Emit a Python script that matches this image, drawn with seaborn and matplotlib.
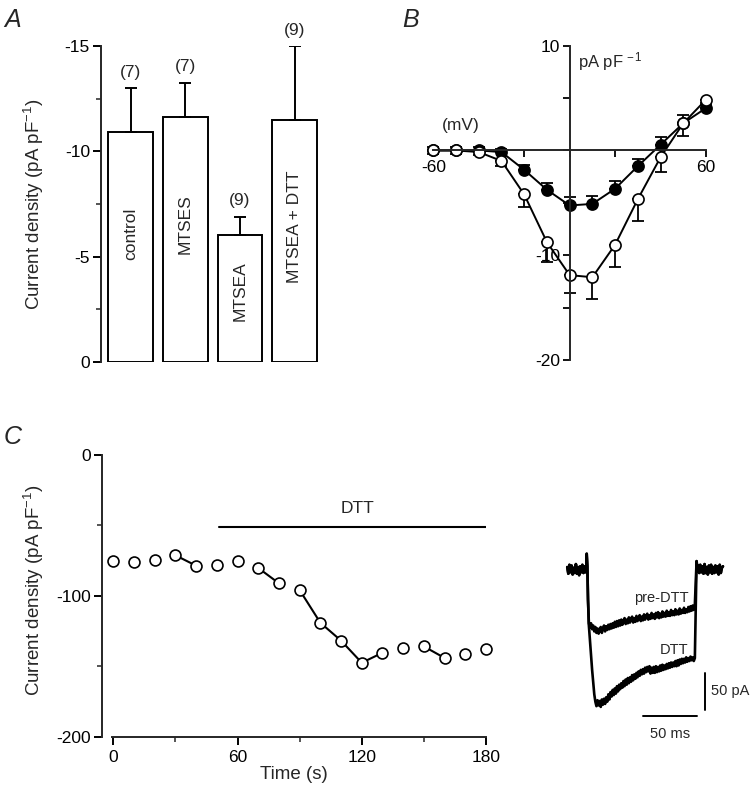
import numpy as np
import pandas as pd
import matplotlib
matplotlib.use('Agg')
import matplotlib.pyplot as plt
from matplotlib.ticker import FixedLocator
import seaborn as sns

# ---------------- data ----------------
# Panel A
conditions = ['control', 'MTSES', 'MTSEA', 'MTSEA + DTT']
density_mean = [-10.9, -11.65, -6.05, -11.5]
density_sem = [2.1, 1.6, 0.85, 3.5]
n_cells = [7, 7, 9, 9]

# Panel B (I-V)
voltage = [-60, -50, -40, -30, -20, -10, 0, 10, 20, 30, 40, 50, 60]
iv_filled = [0.0, 0.0, 0.0, -0.15, -1.85, -3.75, -5.25, -5.1, -3.65, -1.5, 0.55, 2.6, 4.05]
iv_filled_err = [0.3, 0.3, 0.3, 0.3, 0.5, 0.65, 0.85, 0.8, 0.75, 0.65, 0.7, 0.8, 0.5]
iv_open = [0.0, 0.0, -0.15, -1.0, -4.2, -8.75, -11.9, -12.1, -9.0, -4.65, -0.65, 2.6, 4.85]
iv_open_err = [0.3, 0.3, 0.3, 0.5, 1.2, 1.85, 1.75, 2.05, 2.1, 2.05, 1.45, 1.2, 0.5]

# Panel C (time course)
time_s = [0, 10, 20, 30, 40, 50, 60, 70, 80, 90, 100, 110, 120, 130, 140, 150, 160, 170, 180]
density_time = [-75.0, -76.2, -74.8, -71.2, -78.6, -78.3, -75.0, -80.2, -91.1, -95.9,
                -119.1, -131.8, -147.5, -140.4, -136.8, -135.9, -144.1, -141.5, -137.5]
joined = [False, False, False, True, False, False, False, True, False, True,
          True, True, True, False, False, True, False, False]
dtt_period = [51, 180]
dtt_level = -51
dtt_label_x = 118

# Inset current traces (ms, pA)
base_pre_t = [-18, -17, -16, -15, -14, -13, -12, -11, -10, -9, -8, -7, -6, -5, -4, -3, -2, -1, -0.3]
base_pre_v = [4, -5, 7, -3, 6, -6, 3, -4, 8, -5, 4, -7, 5, -3, 7, -4, 5, -3, 0]
onset_t = [0.0, 0.6, 1.2]
onset_v = [22, 5, -40]
pre_v = [-72, -78, -72, -80, -75, -83, -77, -85, -79, -86,
         -80, -77, -85, -79, -75, -83, -76, -81, -74, -80,
         -73, -79, -72, -78, -70, -77, -69, -76, -68, -75,
         -67, -74, -69, -65, -73, -67, -72, -64, -71, -66,
         -63, -71, -65, -70, -62, -69, -64, -61, -69, -63,
         -68, -60, -67, -62, -59, -67, -61, -66, -58, -65,
         -60, -66, -58, -64, -57, -65, -59, -64, -56, -63,
         -58, -63, -55, -62, -57, -62, -54, -61, -56, -61,
         -53, -60, -55, -60, -52, -59, -54, -58, -51, -58,
         -53, -57, -50, -56, -49, -55, -48, -54, -47]
pre_t = list(range(2, 2 + len(pre_v)))
dtt_v = [-75, -95, -115, -135, -152, -168, -178,
         -184, -176, -183, -177, -185, -175, -182, -174, -181, -172,
         -178, -168, -175, -165, -171, -162, -169, -160, -167, -157,
         -164, -155, -161, -153, -159, -150, -157, -148, -155, -146,
         -153, -145, -151, -142, -149, -141, -147, -139, -145, -137,
         -143, -135, -141, -134, -140, -132, -138, -131, -137, -130,
         -140, -132, -139, -131, -139, -130, -138, -131, -137, -129,
         -136, -128, -135, -129, -134, -127, -133, -126, -132, -125,
         -131, -125, -130, -123, -130, -122, -129, -121, -127, -120,
         -126, -120, -125, -118, -124, -119, -123, -117, -122, -118,
         -123, -119]
dtt_t = list(range(2, 2 + len(dtt_v)))
base_post_t = [101.6, 102.2, 103, 104, 105, 106, 107, 108, 109, 110, 111, 112, 113, 114, 115, 116,
               117, 118, 119, 120, 121, 122, 123, 124, 125, 126]
base_post_v = [12, 4, 6, -4, 7, -3, 5, -5, 8, -4, 4, -6, 6, -3, 7, -5, 4, -4, 6, -3, 5, -6, 7, -4, 3, 5]
scale_pA = 50
scale_ms = 50

# ---------------- style ----------------
sns.set_theme(style='ticks')
plt.rcParams['font.family'] = ['Liberation Sans', 'DejaVu Sans']
plt.rcParams['mathtext.fontset'] = 'custom'
plt.rcParams['mathtext.rm'] = 'Liberation Sans'
plt.rcParams['mathtext.it'] = 'Liberation Sans:italic'
plt.rcParams['mathtext.default'] = 'regular'
plt.rcParams['axes.unicode_minus'] = False

W, H = 756, 790
fig = plt.figure(figsize=(W / 100, H / 100), dpi=100)
fig.patch.set_facecolor('white')


def px_axes(x0, y0, x1, y1):
    return fig.add_axes([x0 / W, 1 - y1 / H, (x1 - x0) / W, (y1 - y0) / H])


TICK_FS = 12.5
LAB_FS = 13.5
ylab = 'Current density (pA pF$^{-1}$)'

# ---------------- Panel A ----------------
axA = px_axes(101, 46, 322, 362)
dfA = pd.DataFrame({'condition': conditions, 'density': density_mean})
sns.barplot(data=dfA, x='condition', y='density', ax=axA, color='white', saturation=1,
            edgecolor='black', linewidth=1.4, width=0.82, errorbar=None)
axA.errorbar(range(len(conditions)), density_mean, yerr=[density_sem, [0] * len(conditions)],
             fmt='none', ecolor='black', elinewidth=1.4, capsize=4, capthick=1.4)
axA.set_ylim(0, -15)
axA.set_xlim(-0.54, 3.5)
for s in ['top', 'right', 'bottom']:
    axA.spines[s].set_visible(False)
axA.spines['left'].set_linewidth(1.4)
axA.set_xticks([])
axA.set_xlabel('')
axA.set_yticks([0, -5, -10, -15])
axA.set_yticklabels(['0', '-5', '-10', '-15'], fontsize=TICK_FS)
axA.yaxis.set_minor_locator(FixedLocator([-2.5, -7.5, -12.5]))
axA.tick_params(axis='y', which='major', length=6, width=1.4, pad=2, colors='black')
axA.tick_params(axis='y', which='minor', length=3.5, width=1.1)
axA.set_ylabel(ylab, fontsize=LAB_FS)
axA.yaxis.set_label_coords(-0.25, 0.5)
for i, (m, e, n, c) in enumerate(zip(density_mean, density_sem, n_cells, conditions)):
    axA.text(i, m * 0.56, c, rotation=90, ha='center', va='center', fontsize=12.5)
    axA.annotate(f'({n})', (i, m - e), xytext=(0, 11.5), textcoords='offset points',
                 ha='center', va='center', fontsize=12.5, annotation_clip=False)

# ---------------- Panel B ----------------
axB = px_axes(433.3, 45.7, 706, 360)
sns.lineplot(x=voltage, y=iv_filled, ax=axB, color='black', lw=1.4, marker='o', markersize=8,
             markerfacecolor='black', markeredgecolor='black', markeredgewidth=1.2)
sns.lineplot(x=voltage, y=iv_open, ax=axB, color='black', lw=1.4, marker='o', markersize=8,
             markerfacecolor='white', markeredgecolor='black', markeredgewidth=1.2)
axB.errorbar(voltage, iv_filled, yerr=[[0] * len(voltage), iv_filled_err], fmt='none',
             ecolor='black', elinewidth=1.3, capsize=4, capthick=1.3, zorder=1)
axB.errorbar(voltage, iv_open, yerr=[iv_open_err, [0] * len(voltage)], fmt='none',
             ecolor='black', elinewidth=1.3, capsize=4, capthick=1.3, zorder=1)
for ln in axB.lines:
    ln.set_clip_on(False)
for coll in axB.collections:
    coll.set_clip_on(False)
axB.set_xlim(-60, 60)
axB.set_ylim(-20, 10)
axB.spines['left'].set_position(('data', 0))
axB.spines['bottom'].set_position(('data', 0))
for s in ['top', 'right']:
    axB.spines[s].set_visible(False)
for s in ['left', 'bottom']:
    axB.spines[s].set_linewidth(1.4)
axB.set_xticks([-60, -40, -20, 0, 20, 40, 60])
axB.set_xticklabels(['-60', '', '', '', '', '', '60'], fontsize=TICK_FS)
axB.set_yticks([-20, -15, -10, -5, 0, 5, 10])
axB.set_yticklabels(['-20', '', '-10', '', '', '', '10'], fontsize=TICK_FS)
axB.tick_params(length=5, width=1.3, pad=2, colors='black')
axB.text(-48, 2.4, '(mV)', ha='center', va='center', fontsize=12.5)
axB.text(3.5, 8.45, 'pA pF$^{\\,-1}$', ha='left', va='center', fontsize=12)

# ---------------- Panel C ----------------
axC = px_axes(101.7, 455, 486, 736.7)
for i in range(len(time_s) - 1):
    if joined[i]:
        axC.plot(time_s[i:i + 2], density_time[i:i + 2], color='black', lw=1.5, zorder=2)
sns.scatterplot(x=time_s, y=density_time, ax=axC, s=62, facecolor='white', edgecolor='black',
                linewidth=1.2, zorder=3, clip_on=False)
axC.plot(dtt_period, [dtt_level, dtt_level], color='black', lw=1.5)
axC.text(dtt_label_x, -38, 'DTT', ha='center', va='center', fontsize=12.5)
axC.set_xlim(-5.6, 180)
axC.set_ylim(-200, 0)
for s in ['top', 'right']:
    axC.spines[s].set_visible(False)
for s in ['left', 'bottom']:
    axC.spines[s].set_linewidth(1.4)
axC.spines['bottom'].set_bounds(-0.8, 180)
axC.set_xticks([0, 60, 120, 180])
axC.set_xticklabels(['0', '60', '120', '180'], fontsize=TICK_FS)
axC.xaxis.set_minor_locator(FixedLocator([30, 90, 150]))
axC.set_yticks([-200, -100, 0])
axC.set_yticklabels(['-200', '-100', '0'], fontsize=TICK_FS)
axC.yaxis.set_minor_locator(FixedLocator([-150, -50]))
axC.tick_params(which='major', length=6, width=1.4, pad=2, colors='black')
axC.tick_params(axis='x', which='major', pad=3.5)
axC.tick_params(which='minor', length=3.5, width=1.1)
axC.set_xlabel('Time (s)', fontsize=LAB_FS, labelpad=0.5)
axC.set_ylabel(ylab, fontsize=LAB_FS)
axC.yaxis.set_label_coords(-0.145, 0.52)

# ---------------- Inset traces ----------------
axI = px_axes(560, 545, 750, 745)
t_pre = base_pre_t + onset_t + pre_t + base_post_t
v_pre = base_pre_v + onset_v + pre_v + base_post_v
t_dtt = base_pre_t + onset_t + dtt_t + base_post_t
v_dtt = base_pre_v + onset_v + dtt_v + base_post_v
sns.lineplot(x=t_pre, y=v_pre, ax=axI, color='black', lw=1.9, sort=False)
sns.lineplot(x=t_dtt, y=v_dtt, ax=axI, color='black', lw=1.9, sort=False)
axI.set_xlim(-24.7, 151)
axI.set_ylim(-236.5, 33.8)
axI.axis('off')
sb_t, sb_v = 109.5, -189
axI.plot([sb_t, sb_t], [sb_v, sb_v + scale_pA], color='black', lw=1.4)
axI.plot([sb_t - 7.5 - scale_ms, sb_t - 7.5], [-197, -197], color='black', lw=1.4)
axI.text(sb_t + 5, sb_v + scale_pA / 2, f'{scale_pA} pA', ha='left', va='center', fontsize=10.5)
axI.text(sb_t - 7.5 - scale_ms / 2, -221, f'{scale_ms} ms', ha='center', va='center', fontsize=10.5)
axI.text(94, -38, 'pre-DTT', ha='right', va='center', fontsize=10.5)
axI.text(94, -108, 'DTT', ha='right', va='center', fontsize=10.5)

# ---------------- panel letters ----------------
for lab, x, y in [('A', 4, 20), ('B', 402, 20), ('C', 4, 437)]:
    fig.text(x / W, 1 - y / H, lab, fontsize=18, style='italic', ha='left', va='center')

fig.savefig('out.png', dpi=100, facecolor='white')
